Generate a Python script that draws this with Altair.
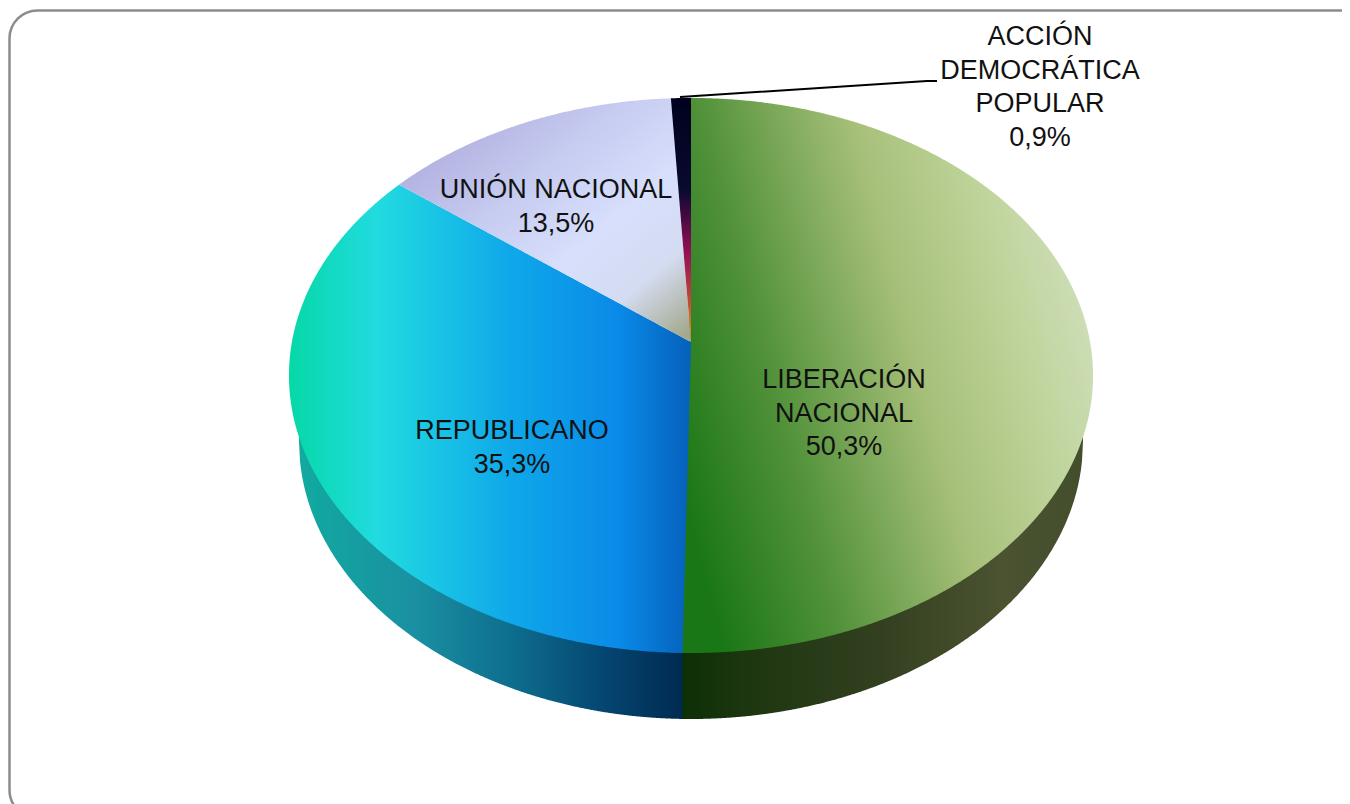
import math
import altair as alt
import pandas as pd

# ---- chart values ----
parties = ["LIBERACIÓN NACIONAL", "REPUBLICANO", "UNIÓN NACIONAL", "ACCIÓN DEMOCRÁTICA POPULAR"]
shares = [50.3, 35.3, 13.5, 0.9]
label_lines = [
    ["LIBERACIÓN", "NACIONAL", "50,3%"],
    ["REPUBLICANO", "35,3%"],
    ["UNIÓN NACIONAL", "13,5%"],
    ["ACCIÓN", "DEMOCRÁTICA", "POPULAR", "0,9%"],
]

# ---- geometry of the tilted disc (styling, not data) ----
APEX_X, APEX_Y = 691.0, 342.0
RX, RY, TILT = 399.1, 273.5, 0.1207
ELL_CX, ELL_CY, ELL_RX, ELL_RY = 691.0, 375.5, 402.0, 277.5
BASE_CY, BASE_RX, BASE_RY = 441.5, 392.0, 277.5
LABEL_POS = [(844, 380), (512, 431), (556, 190), (1040, 37)]
LINE_H = 33.7
FONT = "Liberation Sans"
FONT_SIZE = 27


def project(share_pos):
    a = share_pos / 100 * 2 * math.pi
    u, v = math.sin(a), -math.cos(a)
    w = 1 - TILT * v
    return APEX_X + RX * u / w, APEX_Y + RY * v / w


def wedge_frame(start, end):
    n = max(8, int((end - start) * 10))
    pts = [(APEX_X, APEX_Y)] + [project(start + (end - start) * i / n) for i in range(n + 1)]
    xs = sorted({round(p[0], 2) for p in pts})
    xs = [xs[0] + 0.001] + xs[1:-1] + [xs[-1] - 0.001]
    rows = []
    closed = pts + [pts[0]]
    for x in xs:
        hits = []
        for (x0, y0), (x1, y1) in zip(closed, closed[1:]):
            if min(x0, x1) <= x <= max(x0, x1) and x0 != x1:
                hits.append(y0 + (y1 - y0) * (x - x0) / (x1 - x0))
        if hits:
            rows.append({"x": x, "y": min(hits), "y2": max(hits)})
    return pd.DataFrame(rows)


def side_frame(x0, x1):
    rows = []
    n = int(x1 - x0)
    for i in range(n + 1):
        x = x0 + (x1 - x0) * i / n
        top = ELL_CY + ELL_RY * math.sqrt(max(0, 1 - ((x - ELL_CX) / ELL_RX) ** 2))
        bot = BASE_CY + BASE_RY * math.sqrt(max(0, 1 - ((x - ELL_CX) / BASE_RX) ** 2))
        rows.append({"x": x, "y": top - 3, "y2": bot})
    return pd.DataFrame(rows)


def grad(stops, x1=0, y1=0, x2=1, y2=0):
    return alt.LinearGradient(
        gradient="linear",
        stops=[alt.GradientStop(color=c, offset=o) for o, c in stops],
        x1=x1, y1=y1, x2=x2, y2=y2,
    )


xs = alt.Scale(domain=[8, 1342], range=[0, 1334], nice=False, zero=False)
ys = alt.Scale(domain=[8, 804], range=[0, 796], nice=False, zero=False)
X = alt.X("x:Q", scale=xs, axis=None)
Y = alt.Y("y:Q", scale=ys, axis=None)


def area(df, fill):
    return alt.Chart(df).mark_area(color=fill, orient="vertical", line=False, clip=True).encode(
        x=X, y=Y, y2=alt.Y2("y2:Q")
    )


fills = [
    grad([(0, "#1a7715"), (0.25, "#4f9038"), (0.58, "#a6bf78"), (0.8, "#bdd298"), (1, "#cfdfba")], 0, 0.72, 1, 0.36),
    grad([(0, "#06d8a6"), (0.22, "#21dbe0"), (0.55, "#0fa8ea"), (0.82, "#0a8ae8"), (1, "#0560bb")]),
    grad([(0, "#aaa8da"), (0.35, "#c6cbf0"), (0.6, "#d7dffc"), (0.8, "#d4dcf2"), (1, "#a4a98e")], 0.05, 0.1, 0.95, 1),
    grad([(0, "#00001e"), (0.38, "#0a0a30"), (0.62, "#8f0c55"), (0.85, "#c4503a"), (1, "#e8a015")], 0, 0, 0, 1),
]

layers = []

# rounded frame, running off the page on the right and at the bottom
frame = pd.DataFrame([{"x": 9.5, "x2": 1375, "y": 10.5, "y2": 818}])
layers.append(
    alt.Chart(frame)
    .mark_rect(fillOpacity=0, stroke="#8c8c8c", strokeWidth=2.5, cornerRadius=28, clip=True)
    .encode(x=X, x2=alt.X2("x2:Q"), y=Y, y2=alt.Y2("y2:Q"))
)

# side walls
split_x = project(shares[0])[0]
layers.append(area(side_frame(ELL_CX - BASE_RX, split_x + 1),
                   grad([(0, "#11aaa0"), (0.3, "#1a90a2"), (0.55, "#0e6e8e"), (0.8, "#044570"), (1, "#002a50")])))
layers.append(area(side_frame(split_x, ELL_CX + BASE_RX),
                   grad([(0, "#0c3006"), (0.15, "#1c3610"), (0.5, "#33401f"), (0.8, "#4b5331"), (1, "#434e2c")])))

# thin underlay closing the hairline seam between the two big wedges
layers.append(area(wedge_frame(shares[0] - 0.4, shares[0] + 0.4), "#1a6a50"))

# top wedges, each built from its share
cum = 0.0
for share, fill in zip(shares, fills):
    layers.append(area(wedge_frame(cum, cum + share), fill))
    cum += share

# leader line
leader_x = [680, 927, 937]
leader_y = [97, 81, 81]
layers.append(
    alt.Chart(pd.DataFrame({"x": leader_x, "y": leader_y, "o": [0, 1, 2]}))
    .mark_line(color="#000000", strokeWidth=2)
    .encode(x=X, y=Y, order="o:Q")
)

# labels
rows = []
for lines, (lx, ly) in zip(label_lines, LABEL_POS):
    for i, t in enumerate(lines):
        rows.append({"x": lx, "y": ly + i * LINE_H, "t": t})
layers.append(
    alt.Chart(pd.DataFrame(rows))
    .mark_text(font=FONT, fontSize=FONT_SIZE, color="#111111", align="center", baseline="middle")
    .encode(x=X, y=Y, text="t:N")
)

chart = (
    alt.layer(*layers)
    .properties(width=1334, height=796, padding=0, background="#ffffff",
                autosize=alt.AutoSizeParams(type="none"))
    .configure_view(stroke=None)
)
chart.save("out.html", embed_options={"renderer": "svg", "actions": False})
